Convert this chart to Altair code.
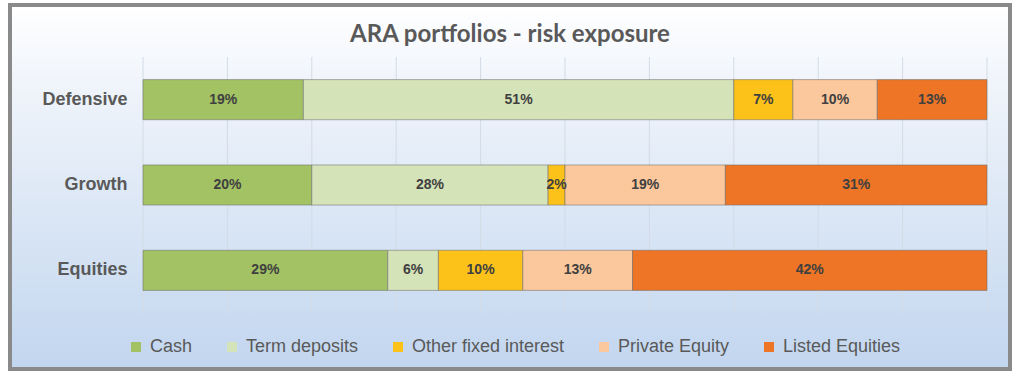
import altair as alt
import pandas as pd

TITLE = "ARA portfolios  - risk exposure"
PORTFOLIOS = ["Defensive", "Growth", "Equities"]
ASSETS = ["Cash", "Term deposits", "Other fixed interest", "Private Equity", "Listed Equities"]
COLORS = ["#a2c264", "#d5e3b8", "#fcc21a", "#fbc79c", "#ed7525"]
DEFENSIVE = [19, 51, 7, 10, 13]
GROWTH = [20, 28, 2, 19, 31]
EQUITIES = [29, 6, 10, 13, 42]
GRID_TICKS = [0, 10, 20, 30, 40, 50, 60, 70, 80, 90, 100]

rows = []
for p, vals in zip(PORTFOLIOS, [DEFENSIVE, GROWTH, EQUITIES]):
    for i, (a, v) in enumerate(zip(ASSETS, vals)):
        rows.append({"portfolio": p, "asset": a, "value": v, "order": i})
df = pd.DataFrame(rows)

W, H = 844, 256

xscale = alt.Scale(domain=[0, 100], nice=False, zero=True)
yscale = alt.Scale(domain=PORTFOLIOS, paddingInner=0.53, paddingOuter=0.265)

bg = alt.Chart(pd.DataFrame({"k": [0]})).mark_rect(
    fill=alt.Gradient(
        gradient="linear",
        stops=[
            alt.GradientStop(color="#ffffff", offset=0),
            alt.GradientStop(color="#f1f5fb", offset=0.2),
            alt.GradientStop(color="#c2d6ef", offset=1),
        ],
        x1=0, x2=0, y1=0, y2=1,
    ),
    stroke="#8a8a8a",
    strokeWidth=4,
).encode(x=alt.value(-133), x2=alt.value(867), y=alt.value(-52), y2=alt.value(312))

grid = alt.Chart(pd.DataFrame({"t": GRID_TICKS})).mark_rule(
    color="#d3dbe5", strokeWidth=1
).encode(
    x=alt.X("t:Q", scale=xscale, axis=None),
    y=alt.value(0),
    y2=alt.value(H),
)

base = alt.Chart(df).transform_stack(
    stack="value",
    groupby=["portfolio"],
    as_=["x0", "x1"],
    sort=[alt.SortField("order", "ascending")],
).transform_calculate(
    mid="(datum.x0 + datum.x1) / 2",
    label="datum.value + '%'",
)

bars = base.mark_bar(stroke="#6f6f6f", strokeOpacity=0.55, strokeWidth=1).encode(
    x=alt.X("x0:Q", scale=xscale, axis=None),
    x2="x1:Q",
    y=alt.Y(
        "portfolio:N",
        scale=yscale,
        sort=PORTFOLIOS,
        axis=alt.Axis(
            title=None,
            labelFont="Liberation Sans",
            labelFontSize=18,
            labelFontWeight="bold",
            labelColor="#595959",
            labelPadding=16,
            ticks=False,
            domain=False,
            grid=False,
            zindex=1,
        ),
    ),
    color=alt.Color(
        "asset:N",
        scale=alt.Scale(domain=ASSETS, range=COLORS),
        legend=alt.Legend(
            title=None,
            orient="none",
            legendX=-16,
            legendY=281,
            direction="horizontal",
            symbolType="square",
            symbolSize=100,
            symbolStrokeWidth=0,
            labelFont="Liberation Sans",
            labelFontSize=18,
            labelColor="#595959",
            labelOffset=5,
            labelLimit=300,
            columnPadding=30,
            zindex=1,
        ),
    ),
    order=alt.Order("order:Q"),
)

text = base.mark_text(
    font="Liberation Sans", fontSize=14, fontWeight="bold", color="#404040"
).encode(
    x=alt.X("mid:Q", scale=xscale),
    y=alt.Y("portfolio:N", scale=yscale, sort=PORTFOLIOS),
    text="label:N",
)

title = alt.Chart(pd.DataFrame({"t": [TITLE]})).mark_text(
    font="Lato", fontSize=24, fontWeight="bold", color="#595959",
    align="center", baseline="alphabetic",
).encode(x=alt.value(367), y=alt.value(-15), text="t:N")

chart = alt.layer(bg, grid, bars, text, title).properties(
    width=W,
    height=H,
    padding={"left": 143, "top": 57, "right": 37, "bottom": 65},
    autosize=alt.AutoSizeParams(type="none"),
).configure_view(stroke=None)

chart.save("out.html", embed_options={"renderer": "svg", "actions": False})
